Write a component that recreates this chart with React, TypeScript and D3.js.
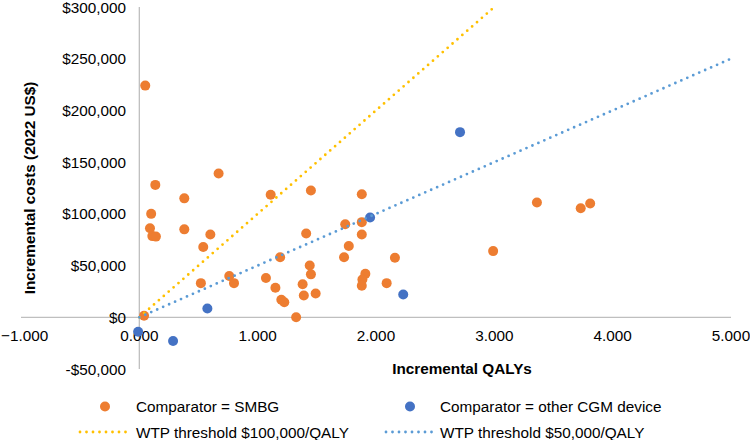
import * as d3 from 'd3'
import React from 'react'

// incremental QALYs / costs
const smbgQalys = [0.05, 0.67, 0.135, 0.38, 0.1, 0.09, 0.38, 0.11, 0.14, 0.6, 0.54, 0.52, 0.76, 0.8, 0.04,
  1.11, 1.45, 1.41, 1.74, 1.19, 1.77, 1.73, 1.88, 1.88, 1.88, 2.16, 2.99, 1.44, 1.45, 1.91, 1.885, 1.88,
  1.07, 1.15, 1.38, 2.09, 1.39, 1.49, 1.2, 1.225, 1.325, 3.36, 3.73, 3.81]
const smbgCosts = [224000, 139000, 128000, 115000, 100000, 86000, 85000, 78500, 78000, 80000, 68000, 33000, 40000, 33000, 1500,
  118500, 122500, 81000, 90000, 58000, 69000, 58000, 119000, 92000, 80000, 57500, 64000, 50000, 41500, 42000, 36500, 30500,
  38000, 28500, 32000, 33000, 21000, 23000, 17000, 14500, 0, 111000, 105500, 110000]
const cgmQalys = [2.71, 1.95, 2.23, 0.575, -0.01, 0.285]
const cgmCosts = [179000, 96500, 22000, 8500, -14000, -23000]
const wtpRates = [100000, 50000]
const wtpLabels = ['WTP threshold $100,000/QALY', 'WTP threshold $50,000/QALY']
const wtpColors = ['#FFC000', '#5B9BD5']
const xTicks = [-1, 0, 1, 2, 3, 4, 5]
const yTicks = [-50000, 0, 50000, 100000, 150000, 200000, 250000, 300000]

const W = 750, H = 440
const font = 'Liberation Sans, Arial, sans-serif'
const fs = 15.3

export default function App() {
  const
    x = d3.scaleLinear().domain([-1, 5]).range([21, 731]),
    y = d3.scaleLinear().domain([-50000, 300000]).range([369, 7]),
    fmtX = d3.format('.3f'),
    fmtY = (v: number) => (v < 0 ? '-$' : '$') + d3.format(',')(Math.abs(v)),
    ln = d3.line<[number, number]>().x(d => x(d[0])).y(d => y(d[1])),
    [xMax] = x.domain().slice(1),
    [, yMax] = y.domain()

  const smbg = smbgQalys.map((q, i) => [q, smbgCosts[i]])
  const cgm = cgmQalys.map((q, i) => [q, cgmCosts[i]])

  return (
    <svg width={W} height={H} style={{ position: 'absolute', left: 0, top: 0 }} fontFamily={font}>
      <rect width={W} height={H} fill='#fff' />
      {/* axes through the origin */}
      <line x1={x(-1)} x2={x(5)} y1={y(0)} y2={y(0)} stroke='#BFBFBF' strokeWidth={1.3} />
      <line x1={x(0)} x2={x(0)} y1={y(300000)} y2={y(-50000)} stroke='#BFBFBF' strokeWidth={1.3} />
      {xTicks.map((t, i) => (
        // first label sits right at the left edge, keep it inside
        <text key={t} x={i === 0 ? 1 : x(t)} y={y(0) + 18} textAnchor={i === 0 ? 'start' : 'middle'}
          dominantBaseline='central' fontSize={fs}>{fmtX(t)}</text>
      ))}
      {yTicks.map(t => (
        <text key={t} x={126} y={y(t)} textAnchor='end' dominantBaseline='central' fontSize={fs}>{fmtY(t)}</text>
      ))}
      <text x={462} y={368} textAnchor='middle' dominantBaseline='central' fontSize={fs} fontWeight='bold'>Incremental QALYs</text>
      <text transform={`translate(29,${(y(300000) + y(-50000)) / 2}) rotate(-90)`} textAnchor='middle'
        dominantBaseline='central' fontSize={fs} fontWeight='bold'>Incremental costs (2022 US$)</text>

      {smbg.map((d, i) => <circle key={'s' + i} cx={x(d[0])} cy={y(d[1])} r={5} fill='#ED7D31' />)}
      {cgm.map((d, i) => <circle key={'c' + i} cx={x(d[0])} cy={y(d[1])} r={5} fill='#4472C4' />)}

      {wtpRates.map((r, i) => {
        const qEnd = Math.min(xMax, yMax / r)
        return <path key={r} d={ln([[0, 0], [qEnd, qEnd * r]]) as string} fill='none' stroke={wtpColors[i]}
          strokeWidth={2.8} strokeLinecap='round' strokeDasharray='0 6.5' />
      })}

      {/* legend */}
      <g fontSize={fs}>
        <circle cx={105} cy={406.5} r={5} fill='#ED7D31' />
        <text x={136} y={406.5} dominantBaseline='central'>Comparator = SMBG</text>
        <circle cx={410} cy={406.5} r={5} fill='#4472C4' />
        <text x={440} y={406.5} dominantBaseline='central'>Comparator = other CGM device</text>
        {wtpLabels.map((l, i) => {
          const lx = i === 0 ? 80 : 386
          return (
            <g key={l}>
              <line x1={lx} x2={lx + 46} y1={432} y2={432} stroke={wtpColors[i]} strokeWidth={2.8}
                strokeLinecap='round' strokeDasharray='0 6.5' />
              <text x={i === 0 ? 136 : 440} y={432} dominantBaseline='central'>{l}</text>
            </g>
          )
        })}
      </g>
    </svg>
  )
}
